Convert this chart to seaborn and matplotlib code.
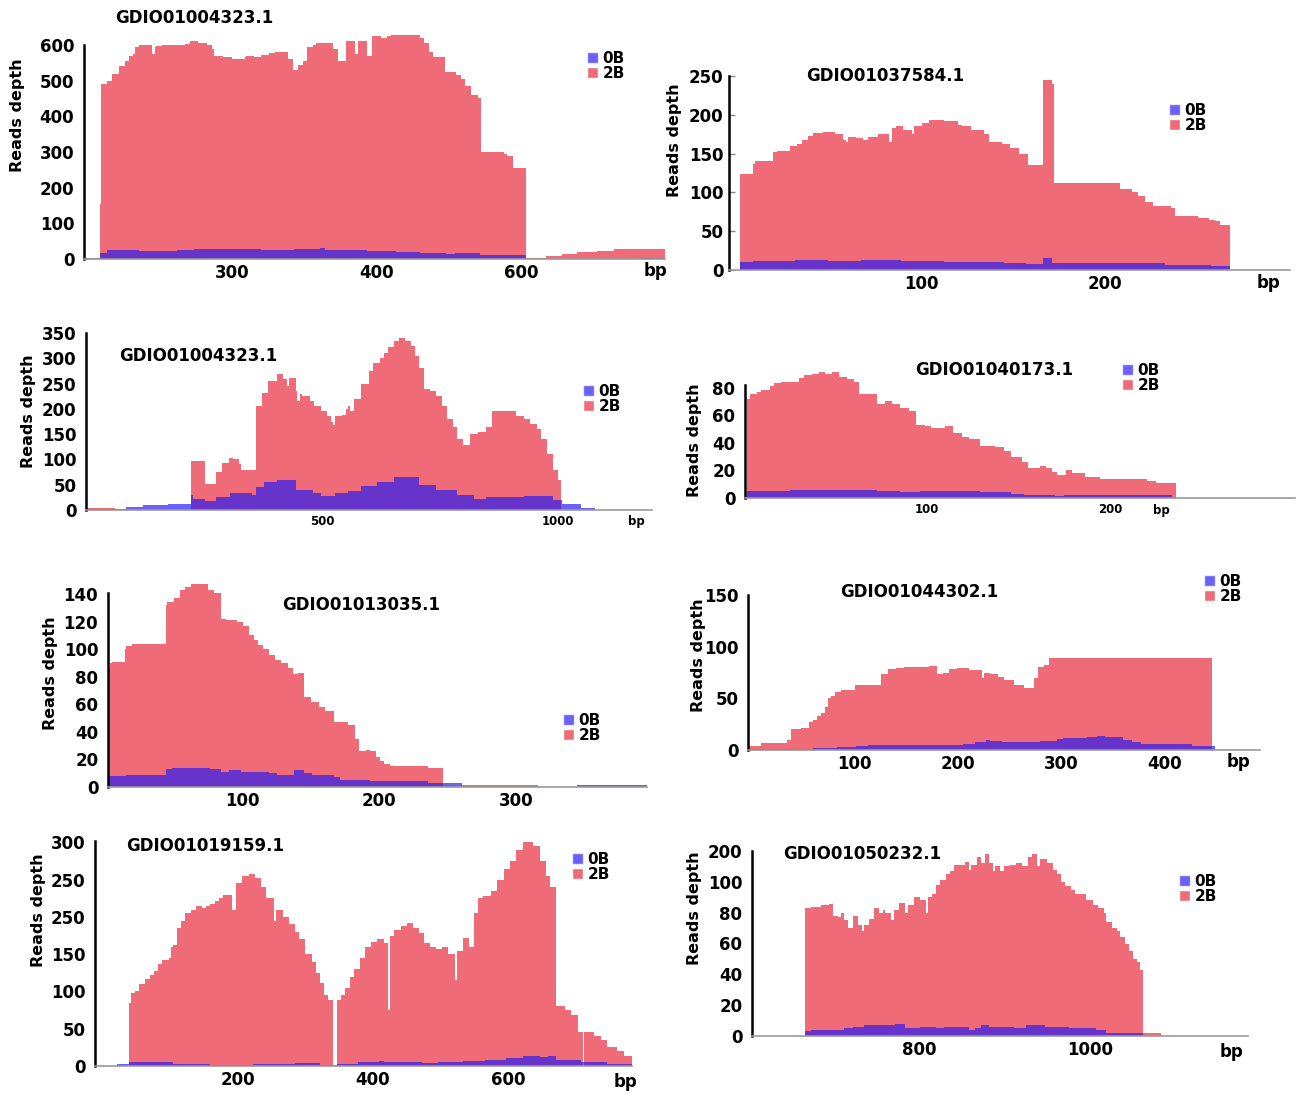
import numpy as np
import pandas as pd
import seaborn as sns
import matplotlib.pyplot as plt
from matplotlib.patches import Patch

# Coverage profiles: step edges (bp) and read depth of each step
# panel 1  GDIO01004323.1
p1_red_x = [209, 210, 214, 217, 222, 226, 229, 232, 233, 236, 245, 247, 248, 252, 268, 271, 277, 283, 286, 288,
            294, 300, 309, 310, 315, 320, 326, 330, 339, 342, 346, 349, 352, 356, 358, 370, 373, 379, 385, 387,
            393, 397, 403, 407, 410, 430, 433, 436, 439, 447, 455, 458, 461, 465, 470, 472, 488, 490, 494, 503,
            517, 528, 538, 552, 564, 599]
p1_red_y = [155, 490, 500, 520, 540, 555, 570, 575, 595, 600, 575, 595, 598, 600, 602, 610, 605, 600, 590, 570,
            565, 560, 565, 570, 565, 572, 578, 580, 560, 530, 545, 555, 595, 600, 605, 590, 555, 610, 575, 612,
            570, 625, 620, 625, 630, 620, 605, 580, 565, 525, 515, 505, 485, 460, 450, 300, 295, 290, 255, 2,
            8, 15, 20, 22, 27]
p1_blue_x = [199, 209, 214, 236, 262, 274, 297, 303, 320, 343, 361, 364, 378, 393, 413, 430, 448, 454, 471, 503,
             581, 599]
p1_blue_y = [2, 18, 25, 23, 25, 27, 28, 27, 26, 28, 30, 25, 26, 22, 20, 16, 14, 17, 12, 1, 3]

# panel 2  GDIO01037584.1
p2_red_x = [1, 8, 9, 19, 21, 28, 32, 35, 38, 41, 46, 53, 57, 59, 60, 64, 68, 71, 76, 82,
            84, 86, 90, 95, 96, 100, 104, 112, 120, 122, 127, 134, 137, 144, 148, 153, 158, 166, 171, 172,
            208, 215, 218, 222, 226, 236, 238, 244, 251, 257, 260, 263, 268]
p2_red_y = [124, 137, 140, 152, 153, 160, 162, 168, 173, 176, 178, 175, 168, 165, 172, 170, 168, 172, 175, 165,
            183, 185, 180, 175, 185, 190, 193, 192, 187, 185, 180, 175, 165, 162, 157, 150, 135, 245, 240, 112,
            105, 100, 95, 88, 83, 80, 70, 69, 67, 65, 63, 58]
p2_blue_x = [1, 8, 31, 49, 67, 89, 98, 112, 145, 157, 166, 171, 233, 258, 268]
p2_blue_y = [10, 11, 13, 11, 13, 11, 12, 10, 9, 8, 16, 9, 7, 5]

# panel 3  GDIO01004323.1
p3_red_x = [0, 62, 84, 222, 253, 275, 289, 302, 311, 324, 329, 361, 373, 386, 404, 417, 425, 431, 444, 448,
            453, 457, 475, 484, 497, 511, 520, 524, 528, 542, 551, 555, 560, 568, 582, 599, 608, 622, 631, 639,
            653, 662, 675, 688, 697, 706, 715, 728, 742, 755, 764, 777, 786, 799, 813, 830, 848, 861, 884, 910,
            928, 941, 955, 964, 977, 990, 1000, 1006]
p3_red_y = [3, 1, 0, 96, 52, 75, 92, 103, 100, 90, 80, 205, 232, 255, 268, 260, 245, 262, 235, 215,
            230, 225, 215, 205, 195, 185, 175, 168, 185, 188, 200, 205, 195, 220, 250, 275, 290, 300, 310, 322,
            335, 340, 335, 325, 305, 280, 240, 235, 225, 205, 180, 165, 140, 128, 150, 155, 165, 195, 195, 185,
            180, 170, 160, 140, 110, 80, 60]
p3_blue_x = [0, 62, 84, 120, 173, 222, 226, 253, 275, 306, 351, 361, 377, 404, 444, 480, 497, 528, 555, 582,
             617, 653, 706, 742, 786, 821, 848, 928, 990, 1008, 1048, 1079]
p3_blue_y = [2, 1, 5, 10, 12, 30, 22, 18, 25, 33, 30, 45, 55, 60, 40, 33, 28, 33, 38, 48,
             55, 66, 50, 40, 30, 22, 25, 27, 20, 12, 3]

# panel 4  GDIO01040173.1
p4_red_x = [1.5, 3, 7, 9, 14, 16.5, 20, 30, 33, 37, 41, 44, 48, 52, 56, 60, 63, 72.5, 77, 81,
            85, 90, 94, 99, 102, 110, 114, 119, 123, 129, 137, 142, 146, 152, 155, 161.5, 165, 168, 171, 176,
            179, 186, 194.5, 220, 225, 236]
p4_red_y = [72, 75, 77, 78, 81, 83, 84, 87, 89, 90, 91, 90, 91, 88, 86, 84, 75, 68, 70, 68,
            65, 63, 53, 52, 51, 52, 47, 44, 43, 38, 37, 34, 30, 26, 22, 23, 22, 19, 17, 20,
            18, 15, 14, 12, 11]
p4_blue_x = [1.5, 25, 72.5, 85, 96, 129, 146, 153, 170, 175, 234, 236]
p4_blue_y = [5, 6, 5, 4, 5, 4, 3, 2, 1.5, 2, 1]

# panel 5  GDIO01013035.1
p5_red_x = [1.5, 3, 4.5, 14, 15, 19, 44, 45, 50, 54.5, 57.5, 62, 74.5, 79, 84, 88, 96, 100.5, 105, 108,
            111, 115, 119, 124, 128, 133, 137, 140.5, 145, 150, 156, 160.5, 167, 177.5, 182, 185, 190, 193,
            197.5, 200.5, 203.5, 208, 236, 247, 260.5, 316]
p5_red_y = [87, 90, 91, 100, 102, 104, 132, 134, 137, 143, 145, 147, 143, 141, 122, 121, 120, 117, 110, 107,
            103, 100, 96, 92, 90, 86, 82, 83, 65, 62, 58, 55, 47, 45, 35, 26, 27, 26, 22, 19,
            17, 15, 14, 0, 1.5]
p5_blue_x = [1.5, 15, 44, 48, 76, 84, 90, 99, 119, 125, 137.5, 145, 151, 167, 171, 193, 236, 260.5, 345, 396]
p5_blue_y = [8, 9, 13, 14, 13, 11, 12, 11, 10, 9, 12, 10, 9, 7, 5, 4, 3, 0, 1.5]

# panel 6  GDIO01044302.1
p6_red_x = [-3.5, 9.5, 34, 38.5, 47.5, 55.5, 59.5, 63.5, 67.5, 71.5, 74, 77, 81, 87, 100, 125.5, 132, 140, 148, 172,
            179.5, 185.5, 191.5, 199, 211, 223, 225, 231, 238.5, 244.5, 254.5, 264, 274, 278, 284, 288, 446]
p6_red_y = [4, 7, 10, 20, 21, 27, 29, 33, 36, 42, 50, 52, 56, 58, 63, 74, 78, 79, 80, 81,
            74, 75, 78, 79, 77, 70, 75, 74, 71, 68, 63, 60, 70, 80, 82, 89]
p6_blue_x = [-3.5, 59.5, 83, 101, 112.5, 140, 195, 205, 217, 227, 231, 242.5, 280, 296, 302, 325, 335, 343,
             360.5, 368.5, 378, 427.5, 449]
p6_blue_y = [1, 2, 3, 4, 5, 4.5, 5, 6, 8, 10, 9, 8, 9, 11, 12, 13, 14, 13, 10, 8, 6, 4]

# panel 7  GDIO01019159.1
p7_red_x = [39, 42, 47, 53, 62.5, 69, 75, 81, 87.5, 97, 100, 103, 109, 116, 122, 131, 137.5, 147, 153, 159,
            166, 172, 178, 191, 197, 206, 216, 225, 234, 241, 253, 256, 266, 275, 284, 291, 300, 309, 316, 322,
            328, 334, 341, 347, 353, 359, 366, 372, 381, 387.5, 397, 406, 416, 422, 425, 431, 441, 450, 459, 469,
            475, 484, 494, 503, 511, 521, 524, 533, 542, 550, 556, 562.5, 575, 584, 594, 603, 612.5, 622, 637.5,
            647, 656, 662.5, 671, 684, 694, 704.5, 712, 713, 728, 737.5, 747, 762.5, 772, 784]
p7_red_y = [85, 98, 100, 110, 117, 122, 128, 137, 142, 145, 160, 162, 185, 195, 205, 210, 215, 212, 215, 218,
            222, 225, 230, 210, 245, 255, 258, 252, 240, 225, 195, 210, 200, 190, 180, 170, 150, 140, 125, 112,
            95, 88, 0, 88, 95, 105, 120, 130, 145, 160, 167, 170, 165, 75, 175, 182, 188, 192, 185, 178,
            165, 160, 157, 160, 150, 115, 155, 172, 160, 205, 225, 228, 235, 250, 265, 275, 290, 300, 295, 275,
            255, 240, 80, 75, 68, 45, 0, 46, 40, 35, 25, 20, 14]
p7_blue_x = [20, 39, 84, 103, 159, 222, 284, 322, 347, 378, 409, 416, 472, 497, 534, 566, 597, 622, 647, 659,
             672, 709, 747, 784]
p7_blue_y = [3, 5, 6, 3, 2, 3, 4, 2, 3, 5, 7, 5, 3.5, 5, 7, 8, 11, 13, 12, 13, 8, 6, 3]

# panel 8  GDIO01050232.1
p8_red_x = [665, 672, 684, 694, 698, 703.5, 707.5, 711, 716, 722, 727.5, 732.5, 735, 740, 746, 752, 756.5, 759,
            766, 770, 776, 783, 786.5, 793, 800, 807, 809.5, 814.5, 819, 824, 831, 836, 841, 853, 858, 860,
            867.5, 872, 877, 882, 886.5, 889, 894, 899, 906, 913, 920.5, 927.5, 932.5, 937.5, 942, 949.5,
            956.5, 961.5, 966, 971, 978, 983, 995, 1003.5, 1009.5, 1017, 1019.5, 1026.5, 1031.5, 1036, 1041,
            1046, 1050.5, 1055.5, 1059, 1062, 1083.5]
p8_red_y = [83, 84, 85, 85.5, 78, 77, 80, 75, 70, 78, 72, 68, 72, 76, 83, 80, 82, 80, 75, 82,
            86, 80, 85, 90, 88, 80, 90, 92, 98, 101, 105, 107, 111, 113, 108, 111, 116, 112, 118, 112,
            107, 110, 107, 110, 111, 112, 110, 116, 118, 110, 115, 112, 108, 105, 100, 97, 95, 92, 88, 85,
            83, 80, 74, 70, 68, 64, 60, 55, 50, 48, 43, 2]
p8_blue_x = [665, 672, 711, 722, 735, 771, 783, 800, 819, 829, 858, 865, 872, 882, 911, 925, 947, 976, 1007,
             1019, 1062]
p8_blue_y = [3, 4, 5, 6, 7, 8, 5, 6, 5, 6, 4, 5, 7, 6, 5, 7, 6, 5, 4, 2]

titles = ["GDIO01004323.1", "GDIO01037584.1", "GDIO01004323.1", "GDIO01040173.1",
          "GDIO01013035.1", "GDIO01044302.1", "GDIO01019159.1", "GDIO01050232.1"]
series_names = ["0B", "2B"]

# tick values and their printed labels
p1_xticks, p1_xlabels = [300, 400, 500], ["300", "400", "600"]
p7_yticks, p7_ylabels = [0, 50, 100, 150, 200, 250, 300], ["0", "50", "100", "150", "250", "250", "300"]
p8_yticks, p8_ylabels = [0, 20, 40, 60, 80, 100, 120], ["0", "20", "40", "60", "80", "100", "200"]

sns.set_style("white")
plt.rcParams["font.family"] = ["DejaVu Sans"]
plt.rcParams["font.weight"] = "bold"
plt.rcParams["text.color"] = "black"
plt.rcParams["xtick.labelcolor"] = "black"
plt.rcParams["ytick.labelcolor"] = "black"

RED = "#F06B78"
BLUE = "#281AF2"
BLUE_ALPHA = 0.69

W, H = 1298, 1097
fig = plt.figure(figsize=(W / 100, H / 100), dpi=100)


def fxy(x, y):
    return x / W, 1 - y / H


def coverage(ax, edges, depth, color, alpha):
    edges = [float(e) for e in edges]
    df = pd.DataFrame({"pos": [(a + b) / 2 for a, b in zip(edges[:-1], edges[1:])],
                       "depth": depth})
    sns.histplot(data=df, x="pos", weights="depth", bins=edges, element="step", fill=True,
                 color=color, alpha=alpha, linewidth=0, edgecolor="none", ax=ax)


panels = [
    dict(red=(p1_red_x, p1_red_y), blue=(p1_blue_x, p1_blue_y), box=(84, 665, 259, 35),
         xlim=(198, 599), ylim=(0, 628), spine_top=600, yticks=list(range(0, 601, 100)), ylabels=None,
         xticks=p1_xticks, xlabels=p1_xlabels, xsize=12, tpos=(115, 18), ylab=(18, 115),
         leg=(587, 51), bp=(667, 271, 12), ticks_in=False),
    dict(red=(p2_red_x, p2_red_y), blue=(p2_blue_x, p2_blue_y), box=(729, 1290, 270, 76),
         xlim=(-5, 301), ylim=(0, 250), spine_top=250, yticks=list(range(0, 251, 50)), ylabels=None,
         xticks=[100, 200], xlabels=None, xsize=12, tpos=(806, 76), ylab=(674, 140),
         leg=(1169, 103), bp=(1280, 283, 12), ticks_in=True),
    dict(red=(p3_red_x, p3_red_y), blue=(p3_blue_x, p3_blue_y), box=(86, 652, 510, 333),
         xlim=(0, 1199), ylim=(0, 350), spine_top=350, yticks=list(range(0, 351, 50)), ylabels=None,
         xticks=[500, 1000], xlabels=None, xsize=8.5, tpos=(119, 356), ylab=(28, 411),
         leg=(583, 384), bp=(645, 522, 8.5), ticks_in=False),
    dict(red=(p4_red_x, p4_red_y), blue=(p4_blue_x, p4_blue_y), box=(745, 1295, 498, 371),
         xlim=(0.5, 301), ylim=(0, 92), spine_top=82, yticks=list(range(0, 81, 20)), ylabels=None,
         xticks=[100, 200], xlabels=None, xsize=8.5, tpos=(915, 370), ylab=(695, 440),
         leg=(1122, 363), bp=(1170, 511, 8.5), ticks_in=False),
    dict(red=(p5_red_x, p5_red_y), blue=(p5_blue_x, p5_blue_y), box=(108, 647, 787, 583),
         xlim=(1.5, 396), ylim=(0, 148), spine_top=141, yticks=list(range(0, 141, 20)), ylabels=None,
         xticks=[100, 200, 300], xlabels=None, xsize=12, tpos=(282, 605), ylab=(51, 673),
         leg=(563, 713), bp=None, ticks_in=False),
    dict(red=(p6_red_x, p6_red_y), blue=(p6_blue_x, p6_blue_y), box=(748, 1260, 750, 595),
         xlim=(-3.5, 493), ylim=(0, 150), spine_top=150, yticks=[0, 50, 100, 150], ylabels=None,
         xticks=[100, 200, 300, 400], xlabels=None, xsize=12, tpos=(840, 592), ylab=(698, 655),
         leg=(1204, 574), bp=(1250, 762, 12), ticks_in=False),
    dict(red=(p7_red_x, p7_red_y), blue=(p7_blue_x, p7_blue_y), box=(95, 632, 1066, 841),
         xlim=(-12, 784), ylim=(0, 302), spine_top=302, yticks=p7_yticks, ylabels=p7_ylabels,
         xticks=[200, 400, 600], xlabels=None, xsize=12, tpos=(126, 846), ylab=(38, 910),
         leg=(572, 852), bp=(637, 1082, 12), ticks_in=False),
    dict(red=(p8_red_x, p8_red_y), blue=(p8_blue_x, p8_blue_y), box=(752, 1248, 1036, 851),
         xlim=(603, 1186), ylim=(0, 120), spine_top=120, yticks=p8_yticks, ylabels=p8_ylabels,
         xticks=[800, 1000], xlabels=None, xsize=12, tpos=(783, 854), ylab=(695, 908),
         leg=(1179, 874), bp=(1243, 1052, 12), ticks_in=False),
]

for title, p in zip(titles, panels):
    L, R, B, T = p["box"]
    ax = fig.add_axes([L / W, 1 - B / H, (R - L) / W, (B - T) / H])

    coverage(ax, *p["red"], RED, 1)
    coverage(ax, *p["blue"], BLUE, BLUE_ALPHA)

    ax.set_xlim(*p["xlim"])
    ax.set_ylim(*p["ylim"])
    ax.set_xlabel("")
    ax.set_ylabel("")

    for side in ["top", "right"]:
        ax.spines[side].set_visible(False)
    ax.spines["left"].set_color("black")
    ax.spines["left"].set_linewidth(1.8)
    ax.spines["left"].set_bounds(0, p["spine_top"])
    ax.spines["bottom"].set_color("#9a9a9a")
    ax.spines["bottom"].set_linewidth(1.2)

    ax.set_yticks(p["yticks"])
    if p["ylabels"]:
        ax.set_yticklabels(p["ylabels"])
    ax.set_xticks(p["xticks"])
    if p["xlabels"]:
        ax.set_xticklabels(p["xlabels"])

    if p["ticks_in"]:
        ax.tick_params(axis="y", direction="in", length=4, width=1, color="#888888",
                       pad=4, labelsize=12, left=True, labelcolor="black")
    else:
        ax.tick_params(axis="y", length=0, pad=7, labelsize=12, labelcolor="black")
    ax.tick_params(axis="x", length=0, pad=3.5, labelsize=p["xsize"], labelcolor="black")

    fig.text(*fxy(*p["tpos"]), title, fontsize=12, ha="left", va="center", color="black")
    fig.text(*fxy(*p["ylab"]), "Reads depth", fontsize=11.5, rotation=90,
             ha="center", va="center", color="black")
    if p["bp"]:
        bx, by, bs = p["bp"]
        fig.text(*fxy(bx, by), "bp", fontsize=bs, ha="right", va="center", color="black")

    handles = [Patch(facecolor=BLUE, alpha=BLUE_ALPHA, label=series_names[0]),
               Patch(facecolor=RED, label=series_names[1])]
    leg = fig.legend(handles=handles, loc="upper left", bbox_to_anchor=fxy(*p["leg"]),
                     frameon=False, prop={"weight": "bold", "size": 11},
                     handlelength=0.75, handleheight=0.75, handletextpad=0.25,
                     labelspacing=0.0, borderpad=0, borderaxespad=0)
    for t in leg.get_texts():
        t.set_color("black")

fig.savefig("out.png", dpi=100)
